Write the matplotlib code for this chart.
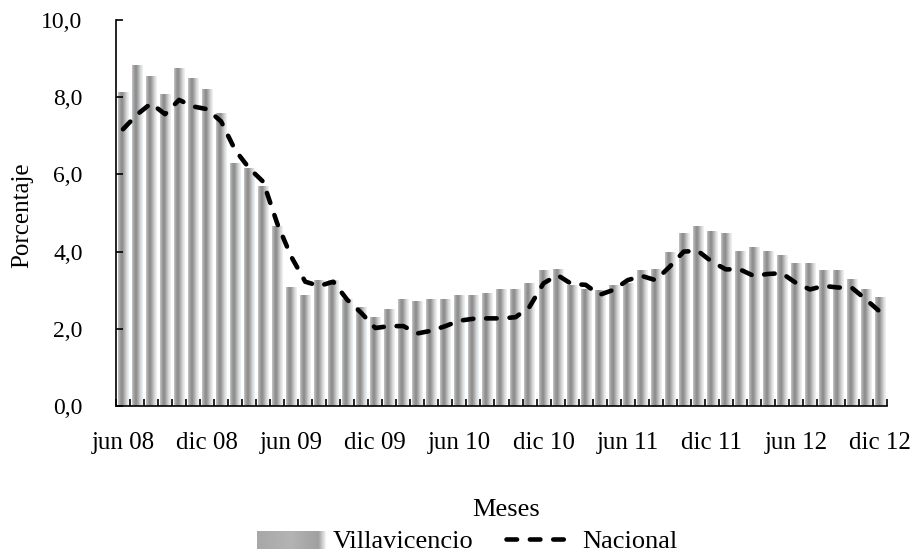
import numpy as np
import matplotlib
matplotlib.use("Agg")
import matplotlib.pyplot as plt
from matplotlib.colors import LinearSegmentedColormap
from matplotlib.legend_handler import HandlerBase
from matplotlib.image import BboxImage
from matplotlib.transforms import Bbox, TransformedBbox
from matplotlib.patches import Rectangle

plt.rcParams['font.family'] = ['Liberation Serif', 'DejaVu Serif']

# meses jun 08 .. dic 12
nombres = ['ene', 'feb', 'mar', 'abr', 'may', 'jun', 'jul', 'ago', 'sep', 'oct', 'nov', 'dic']
meses = [f'{nombres[m]} {a:02d}' for a in range(8, 13) for m in range(12)][5:]
etiquetas = ['jun 08', 'dic 08', 'jun 09', 'dic 09', 'jun 10',
             'dic 10', 'jun 11', 'dic 11', 'jun 12', 'dic 12']

villavicencio = [8.12, 8.81, 8.53, 8.06, 8.75, 8.49, 8.19, 7.58, 6.29, 6.16,
                 5.68, 4.65, 3.07, 2.86, 3.25, 3.26, 2.75, 2.56, 2.30, 2.50,
                 2.77, 2.72, 2.77, 2.77, 2.87, 2.87, 2.92, 3.02, 3.02, 3.18,
                 3.50, 3.54, 3.13, 3.02, 2.99, 3.13, 3.18, 3.50, 3.54, 3.97,
                 4.47, 4.65, 4.52, 4.47, 4.00, 4.11, 4.00, 3.91, 3.70, 3.70,
                 3.50, 3.50, 3.28, 3.02, 2.82]
nacional = [7.17, 7.55, 7.84, 7.56, 7.93, 7.76, 7.69, 7.37, 6.63, 6.16,
            5.81, 4.73, 3.87, 3.22, 3.11, 3.22, 2.75, 2.41, 2.02, 2.07,
            2.07, 1.88, 1.95, 2.07, 2.21, 2.26, 2.27, 2.27, 2.30, 2.57,
            3.18, 3.39, 3.16, 3.14, 2.88, 3.01, 3.26, 3.37, 3.26, 3.61,
            4.00, 4.02, 3.74, 3.54, 3.54, 3.37, 3.42, 3.44, 3.19, 3.02,
            3.11, 3.07, 3.06, 2.76, 2.44]

# degradado tipo cilindro de las barras
cmap = LinearSegmentedColormap.from_list('barra', [
    (0.0, '#c6c6c6'), (0.2, '#9c9c9c'), (0.38, '#8a8a8a'),
    (0.6, '#b2b2b2'), (0.82, '#dcdcdc'), (1.0, '#f0f4f7')])
grad = np.linspace(0, 1, 64).reshape(1, -1)

# leyenda: barra horizontal gris con borde claro a la derecha
cmap_ley = LinearSegmentedColormap.from_list('ley', [
    (0.0, '#a8a8a8'), (0.5, '#b4b4b4'), (0.9, '#a0a0a0'), (1.0, '#eef2f5')])


class HandlerGradiente(HandlerBase):
    def create_artists(self, legend, orig_handle, xdescent, ydescent,
                       width, height, fontsize, trans):
        bb = Bbox.from_bounds(-xdescent, -ydescent - height * 0.05, width, height * 0.95)
        img = BboxImage(TransformedBbox(bb, trans), cmap=cmap_ley, interpolation='bilinear')
        img.set_data(grad)
        return [img]


fig = plt.figure(figsize=(9.17, 5.54), dpi=100)
ax = fig.add_axes([116 / 917, 1 - 406 / 554, (887 - 116) / 917, (406 - 20) / 554])

x = np.arange(len(meses))
bars = ax.bar(x, villavicencio, width=0.72, color='none', edgecolor='none')
for b in bars:
    ax.imshow(grad, cmap=cmap, aspect='auto', interpolation='bilinear', zorder=1,
              extent=(b.get_x(), b.get_x() + b.get_width(), 0, b.get_height()))

linea, = ax.plot(x, nacional, color='black', lw=3.3, dashes=(2.3, 2.8),
                 dash_capstyle='round', solid_joinstyle='round', zorder=3,
                 label='Nacional')

ax.set_xlim(-0.5, len(meses) - 0.5)
ax.set_ylim(0, 10)
ax.set_xticks(x[::6])
ax.set_xticklabels(etiquetas)
ax.set_xticks(np.arange(-0.5, len(meses), 1), minor=True)
ax.tick_params(axis='x', which='major', length=0, pad=19, labelsize=18)
ax.tick_params(axis='x', which='minor', direction='in', length=5, width=1.2)
yt = np.arange(0, 10.1, 2)
ax.set_yticks(yt)
ax.set_yticklabels([f'{v:.1f}'.replace('.', ',') for v in yt])
ax.tick_params(axis='y', direction='in', length=5, width=1.2, pad=24, labelsize=17)
for s in ['top', 'right']:
    ax.spines[s].set_visible(False)
for s in ['left', 'bottom']:
    ax.spines[s].set_linewidth(1.2)

fig.text(22 / 917, 1 - 215 / 554, 'Porcentaje', rotation=90, ha='center', va='center', fontsize=18)
fig.text(506 / 917, 1 - 510 / 554, 'Meses', ha='center', va='center', fontsize=19)

proxy = Rectangle((0, 0), 1, 1, label='Villavicencio')
ax.legend([proxy, linea], ['Villavicencio', 'Nacional'],
          handler_map={Rectangle: HandlerGradiente()},
          loc='center', bbox_to_anchor=(467 / 917, 1 - 541 / 554),
          bbox_transform=fig.transFigure, ncol=2, frameon=False, borderpad=0,
          fontsize=19, handlelength=2.6, handletextpad=0.3, columnspacing=1.2)

fig.savefig('out.png', dpi=100)
